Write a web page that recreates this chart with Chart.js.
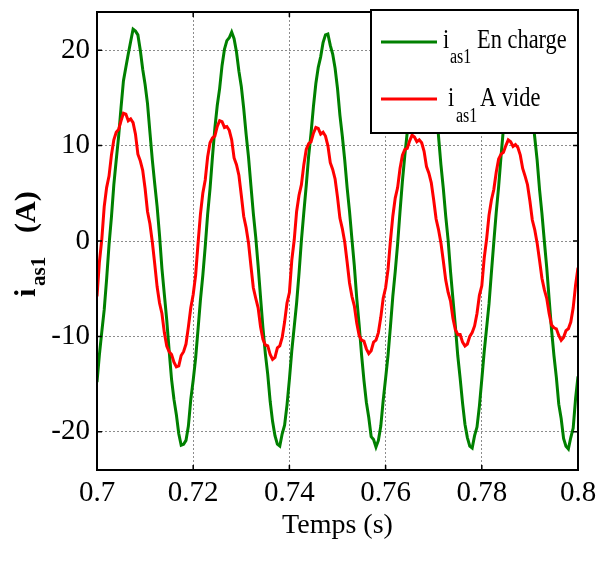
<!DOCTYPE html>
<html>
<head>
<meta charset="utf-8">
<script src="https://cdn.jsdelivr.net/npm/chart.js@4.4.1/dist/chart.umd.min.js"></script>
<style>
  html, body { margin: 0; padding: 0; background: #fff; }
  #wrap { width: 607px; height: 563px; position: relative; }
</style>
</head>
<body>
<div id="wrap"><canvas id="chart"></canvas></div>
<script>
// Courant statorique i_as1 : en charge vs à vide, 0.7 s → 0.8 s (pas 0.5 ms)

const temps = [
  0.7000, 0.7005, 0.7010, 0.7015, 0.7020, 0.7025, 0.7030, 0.7035, 0.7040, 0.7045,
  0.7050, 0.7055, 0.7060, 0.7065, 0.7070, 0.7075, 0.7080, 0.7085, 0.7090, 0.7095,
  0.7100, 0.7105, 0.7110, 0.7115, 0.7120, 0.7125, 0.7130, 0.7135, 0.7140, 0.7145,
  0.7150, 0.7155, 0.7160, 0.7165, 0.7170, 0.7175, 0.7180, 0.7185, 0.7190, 0.7195,
  0.7200, 0.7205, 0.7210, 0.7215, 0.7220, 0.7225, 0.7230, 0.7235, 0.7240, 0.7245,
  0.7250, 0.7255, 0.7260, 0.7265, 0.7270, 0.7275, 0.7280, 0.7285, 0.7290, 0.7295,
  0.7300, 0.7305, 0.7310, 0.7315, 0.7320, 0.7325, 0.7330, 0.7335, 0.7340, 0.7345,
  0.7350, 0.7355, 0.7360, 0.7365, 0.7370, 0.7375, 0.7380, 0.7385, 0.7390, 0.7395,
  0.7400, 0.7405, 0.7410, 0.7415, 0.7420, 0.7425, 0.7430, 0.7435, 0.7440, 0.7445,
  0.7450, 0.7455, 0.7460, 0.7465, 0.7470, 0.7475, 0.7480, 0.7485, 0.7490, 0.7495,
  0.7500, 0.7505, 0.7510, 0.7515, 0.7520, 0.7525, 0.7530, 0.7535, 0.7540, 0.7545,
  0.7550, 0.7555, 0.7560, 0.7565, 0.7570, 0.7575, 0.7580, 0.7585, 0.7590, 0.7595,
  0.7600, 0.7605, 0.7610, 0.7615, 0.7620, 0.7625, 0.7630, 0.7635, 0.7640, 0.7645,
  0.7650, 0.7655, 0.7660, 0.7665, 0.7670, 0.7675, 0.7680, 0.7685, 0.7690, 0.7695,
  0.7700, 0.7705, 0.7710, 0.7715, 0.7720, 0.7725, 0.7730, 0.7735, 0.7740, 0.7745,
  0.7750, 0.7755, 0.7760, 0.7765, 0.7770, 0.7775, 0.7780, 0.7785, 0.7790, 0.7795,
  0.7800, 0.7805, 0.7810, 0.7815, 0.7820, 0.7825, 0.7830, 0.7835, 0.7840, 0.7845,
  0.7850, 0.7855, 0.7860, 0.7865, 0.7870, 0.7875, 0.7880, 0.7885, 0.7890, 0.7895,
  0.7900, 0.7905, 0.7910, 0.7915, 0.7920, 0.7925, 0.7930, 0.7935, 0.7940, 0.7945,
  0.7950, 0.7955, 0.7960, 0.7965, 0.7970, 0.7975, 0.7980, 0.7985, 0.7990, 0.7995,
  0.8000,
];

const iasEnCharge = [
  -14.8, -11.9, -9.5, -7.2, -4.0, -0.4, 2.5, 5.9, 8.5, 11.0,
  14.0, 16.8, 18.2, 19.6, 20.9, 22.2, 22.0, 21.6, 20.0, 18.0,
  16.4, 14.4, 11.4, 8.5, 6.0, 3.6, 0.6, -2.9, -5.6, -8.3,
  -11.5, -14.5, -16.6, -18.2, -20.2, -21.4, -21.3, -20.9, -19.4, -16.6,
  -14.6, -12.3, -9.3, -6.2, -3.6, -0.6, 2.8, 5.5, 8.8, 11.8,
  14.2, 16.0, 18.4, 20.1, 21.0, 21.3, 21.9, 21.2, 19.8, 17.8,
  16.2, 13.9, 11.2, 8.8, 5.8, 2.9, 0.4, -2.6, -5.9, -9.1,
  -11.8, -14.0, -16.8, -18.9, -20.4, -21.3, -21.5, -20.2, -19.3, -17.2,
  -14.5, -11.5, -9.0, -6.5, -3.4, 0.1, 3.0, 5.8, 8.9, 11.3,
  14.1, 16.5, 18.2, 19.3, 20.8, 21.6, 21.7, 20.5, 19.6, 18.1,
  16.0, 13.2, 11.0, 8.5, 5.6, 3.1, 0.2, -2.6, -6.0, -8.8,
  -11.9, -14.6, -16.9, -18.5, -20.5, -20.8, -21.6, -20.9, -19.4, -16.7,
  -14.4, -12.0, -9.0, -5.8, -3.2, -0.3, 3.1, 6.3, 9.0, 11.4,
  14.2, 16.6, 18.3, 19.8, 20.9, 21.6, 21.8, 21.1, 19.7, 17.6,
  16.0, 13.8, 11.0, 8.0, 5.5, 2.6, 0.1, -3.2, -6.1, -8.9,
  -12.0, -14.4, -17.0, -19.2, -20.6, -21.5, -21.7, -20.4, -19.5, -17.3,
  -14.5, -11.6, -9.1, -6.6, -3.3, -0.1, 3.0, 5.7, 8.9, 11.8,
  14.1, 16.0, 18.2, 19.8, 20.8, 21.5, 21.7, 21.0, 19.6, 18.0,
  15.9, 13.2, 10.9, 8.5, 5.4, 2.9, 0.0, -2.8, -6.1, -9.3,
  -12.0, -14.3, -17.1, -18.6, -20.7, -21.5, -21.8, -20.6, -19.6, -16.5,
  -14.2,
];

const iasAVide = [
  -5.8, -2.2, 0.2, 3.6, 5.6, 6.8, 9.0, 10.6, 11.4, 11.7,
  12.6, 13.4, 13.3, 12.6, 12.8, 12.4, 11.2, 9.1, 8.4, 7.4,
  5.5, 3.1, 1.8, -0.1, -2.4, -4.8, -6.5, -7.6, -9.6, -11.0,
  -11.6, -11.9, -12.7, -13.2, -13.1, -12.0, -11.6, -10.8, -9.0, -7.0,
  -5.6, -3.6, -0.3, 2.8, 5.0, 6.4, 8.8, 10.3, 10.8, 11.0,
  12.0, 12.6, 12.5, 11.9, 12.0, 11.6, 10.6, 8.7, 8.0, 6.9,
  4.8, 2.6, 1.4, -0.2, -2.6, -4.9, -6.0, -7.0, -9.0, -10.3,
  -10.9, -11.0, -11.9, -12.4, -12.2, -11.2, -11.0, -10.1, -8.5, -6.5,
  -5.4, -2.0, 0.1, 3.1, 4.8, 5.9, 8.0, 9.6, 10.2, 10.4,
  11.3, 11.9, 11.8, 11.2, 11.4, 11.0, 10.0, 8.2, 7.5, 6.5,
  4.6, 2.4, 1.3, -0.1, -2.2, -4.4, -5.8, -6.8, -8.6, -9.9,
  -10.4, -10.5, -11.3, -11.8, -11.5, -10.6, -10.4, -9.6, -8.0, -6.0,
  -4.9, -3.0, 0.0, 2.6, 4.5, 5.6, 7.6, 9.0, 9.6, 9.7,
  10.5, 11.1, 10.9, 10.4, 10.6, 10.3, 9.4, 7.8, 7.1, 6.1,
  4.3, 2.3, 1.2, -0.2, -2.1, -4.1, -5.4, -6.3, -8.1, -9.3,
  -9.8, -9.8, -10.6, -11.0, -10.8, -10.0, -9.6, -8.9, -7.6, -5.7,
  -4.7, -1.8, 0.2, 2.7, 4.3, 5.4, 7.2, 8.6, 9.1, 9.3,
  10.0, 10.6, 10.4, 9.9, 10.1, 9.8, 9.0, 7.6, 6.8, 5.9,
  4.2, 2.2, 1.2, -0.2, -2.0, -3.9, -5.1, -6.0, -7.6, -8.8,
  -9.1, -9.2, -9.9, -10.4, -10.1, -9.4, -9.2, -8.5, -7.0, -4.6,
  -2.8,
];

const xTicks = [0.70, 0.72, 0.74, 0.76, 0.78, 0.80];
const yTicks = [-20, -10, 0, 10, 20];

const GREEN = '#008000';
const RED = '#ff0000';
const SERIF = "'Liberation Serif', 'Times New Roman', serif";

function points(ys) {
  return temps.map((t, i) => ({ x: t, y: ys[i] }));
}

// Draw text squeezed horizontally (the reference font is condensed)
function narrowText(ctx, text, x, y, size, squeeze, weight) {
  ctx.save();
  ctx.translate(x, y);
  ctx.scale(squeeze, 1);
  ctx.font = `${weight || 'normal'} ${size}px ${SERIF}`;
  ctx.fillText(text, 0, 0);
  ctx.restore();
}

// ── Frame, inward ticks, y title with subscript, legend ─────────────────────
const framePlugin = {
  id: 'matlabFrame',
  afterDraw(chart) {
    const { ctx, chartArea: a, scales } = chart;
    ctx.save();

    // inward tick marks on all four sides
    ctx.strokeStyle = '#000';
    ctx.lineWidth = 1.5;
    ctx.beginPath();
    xTicks.forEach((v) => {
      const px = scales.x.getPixelForValue(v);
      ctx.moveTo(px, a.bottom); ctx.lineTo(px, a.bottom - 5);
      ctx.moveTo(px, a.top); ctx.lineTo(px, a.top + 5);
    });
    yTicks.forEach((v) => {
      const py = scales.y.getPixelForValue(v);
      ctx.moveTo(a.left, py); ctx.lineTo(a.left + 5, py);
      ctx.moveTo(a.right, py); ctx.lineTo(a.right - 5, py);
    });
    ctx.stroke();

    // plot box
    ctx.lineWidth = 2;
    ctx.strokeRect(a.left, a.top, a.right - a.left, a.bottom - a.top);

    // y title: i_as1 (A), rotated
    ctx.fillStyle = '#000';
    ctx.textBaseline = 'alphabetic';
    ctx.textAlign = 'left';
    ctx.save();
    ctx.translate(35, 297);
    ctx.rotate(-Math.PI / 2);
    ctx.font = `bold 30px ${SERIF}`;
    ctx.fillText('i', 0, 0);
    ctx.font = `bold 21px ${SERIF}`;
    ctx.fillText('as1', 11, 10);
    ctx.font = `bold 30px ${SERIF}`;
    ctx.fillText('(A)', 64, 0);
    ctx.restore();

    // legend box
    const lx = 371, ly = 10, lw = 207, lh = 123;
    ctx.fillStyle = '#fff';
    ctx.fillRect(lx, ly, lw, lh);
    ctx.strokeStyle = '#000';
    ctx.lineWidth = 2;
    ctx.strokeRect(lx, ly, lw, lh);

    ctx.lineWidth = 3;
    ctx.strokeStyle = GREEN;
    ctx.beginPath(); ctx.moveTo(381, 42); ctx.lineTo(437, 42); ctx.stroke();
    ctx.strokeStyle = RED;
    ctx.beginPath(); ctx.moveTo(381, 99); ctx.lineTo(437, 99); ctx.stroke();

    ctx.fillStyle = '#000';
    narrowText(ctx, 'i', 443, 48, 28, 0.8);
    narrowText(ctx, 'as1', 450, 63, 20, 0.8);
    narrowText(ctx, 'En charge', 477, 48, 28, 0.8);
    narrowText(ctx, 'i', 448, 106, 28, 0.8);
    narrowText(ctx, 'as1', 456, 122, 20, 0.8);
    narrowText(ctx, 'A vide', 480, 106, 28, 0.8);

    ctx.restore();
  },
};

new Chart(document.getElementById('chart'), {
  type: 'line',
  plugins: [framePlugin],
  data: {
    datasets: [
      {
        label: 'ias1 En charge',
        data: points(iasEnCharge),
        borderColor: GREEN,
        borderWidth: 3,
        pointRadius: 0,
        tension: 0,
        order: 2,
      },
      {
        label: 'ias1 A vide',
        data: points(iasAVide),
        borderColor: RED,
        borderWidth: 3,
        pointRadius: 0,
        tension: 0,
        order: 1,
      },
    ],
  },
  options: {
    responsive: true,
    maintainAspectRatio: false,
    animation: false,
    devicePixelRatio: 1,
    layout: { padding: { left: 0, top: 12, right: 29, bottom: 21 } },
    plugins: {
      legend: { display: false },
      tooltip: { enabled: false },
    },
    scales: {
      x: {
        type: 'linear',
        min: 0.7,
        max: 0.8,
        afterBuildTicks: (scale) => { scale.ticks = xTicks.map((v) => ({ value: v })); },
        afterFit: (scale) => {
          scale.height = 72;
          scale.paddingLeft = 0;
          scale.paddingRight = 0;
        },
        grid: { color: '#8c8c8c', lineWidth: 1, drawTicks: false },
        border: { display: false, dash: [2, 2] },
        ticks: {
          color: '#000',
          padding: 6,
          maxRotation: 0,
          font: { family: SERIF, size: 29 },
          callback: (v) => String(parseFloat(Number(v).toFixed(2))),
        },
        title: {
          display: true,
          text: 'Temps (s)',
          color: '#000',
          padding: { top: 0, bottom: 0 },
          font: { family: SERIF, size: 28 },
        },
      },
      y: {
        min: -24,
        max: 24,
        afterBuildTicks: (scale) => { scale.ticks = yTicks.map((v) => ({ value: v })); },
        afterFit: (scale) => {
          scale.width = 97;
          scale.paddingTop = 0;
          scale.paddingBottom = 0;
        },
        grid: { color: '#8c8c8c', lineWidth: 1, drawTicks: false },
        border: { display: false, dash: [2, 2] },
        ticks: {
          color: '#000',
          padding: 7,
          font: { family: SERIF, size: 29 },
        },
      },
    },
  },
});
</script>
</body>
</html>
